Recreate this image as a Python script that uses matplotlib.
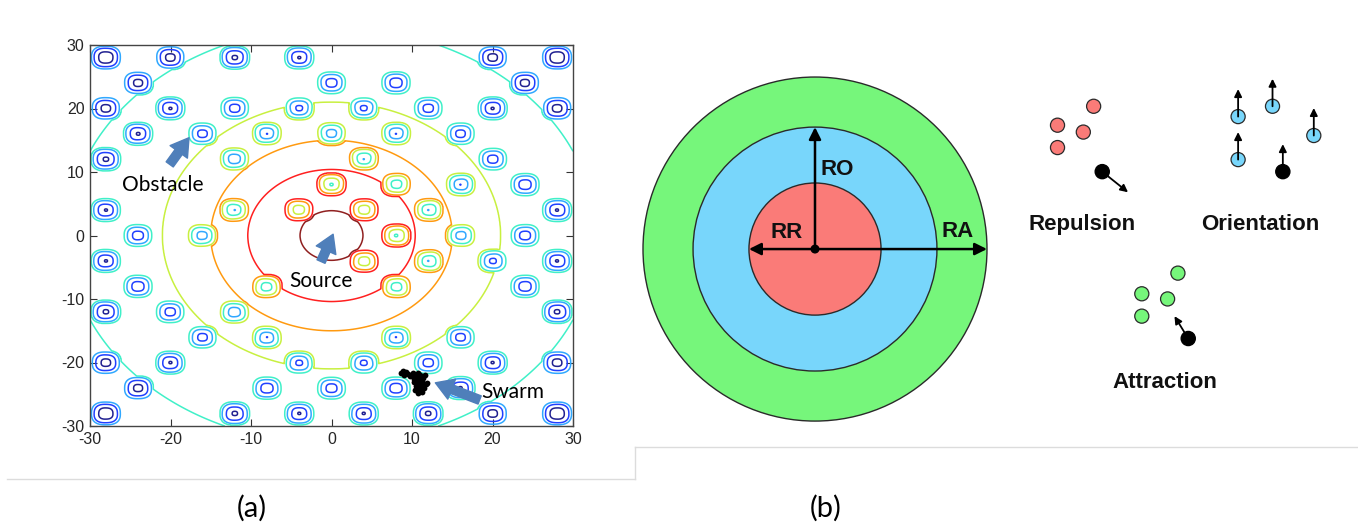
import numpy as np
import matplotlib
import matplotlib.pyplot as plt
from matplotlib.lines import Line2D
from matplotlib.patches import Circle

matplotlib.use("Agg")
plt.rcParams["axes.unicode_minus"] = False

# ── (a) data ────────────────────────────────────────────────────────────────
# obstacle centres, one row of the lattice per y value
OBSTACLE_ROWS = [
    (28, [-28, -20, -12, -4, 20, 28]),
    (24, [-24, 0, 8, 24]),
    (20, [-28, -20, -12, -4, 4, 12, 20, 28]),
    (16, [-24, -16, -8, 0, 8, 16]),
    (12, [-28, -12, 4, 20]),
    (8, [0, 8, 16, 24]),
    (4, [-28, -12, -4, 4, 12, 28]),
    (0, [-24, -16, 8, 16, 24]),
    (-4, [-28, 4, 12, 20, 28]),
    (-8, [-24, -8, 8, 24]),
    (-12, [-28, -20, -12, 28]),
    (-16, [-16, -8, 8, 16]),
    (-20, [-28, -20, -4, 4, 12, 20, 28]),
    (-24, [-24, -8, 0, 8, 16]),
    (-28, [-28, -12, -4, 4, 12, 20, 28]),
]
obs_x = [x for y, xs in OBSTACLE_ROWS for x in xs]
obs_y = [y for y, xs in OBSTACLE_ROWS for x in xs]

# source field: contour level reached at each radius
src_radii = [0, 3.9, 10.4, 15, 21, 32.8, 45]
src_levels = [8, 7, 6, 5, 4, 3, 2.0]

contour_levels = [0, 1, 2, 3, 4, 5, 6, 7]
contour_colors = ["#202090", "#2040ff", "#30a8ff", "#40f0c8",
                  "#c8f040", "#ff9a10", "#ff2020", "#902020"]

swarm_x = [8.6, 8.9, 9.2, 9.5, 9.0, 9.8, 10.1, 10.4, 10.7, 11.0, 11.3, 11.6,
           10.2, 10.6, 11.0, 11.4, 10.3, 10.8, 11.2, 11.7, 10.5, 10.9, 11.3,
           10.4, 10.8, 11.1, 11.5, 11.9, 10.7, 11.2]
swarm_y = [-21.6, -21.3, -21.5, -21.8, -21.9, -22.1, -21.7, -22.0, -21.6,
           -21.9, -22.3, -22.0, -22.6, -22.4, -22.8, -22.5, -23.1, -23.3,
           -23.0, -23.4, -23.7, -23.9, -23.6, -24.3, -24.5, -24.2, -24.0,
           -23.2, -24.8, -24.6]

# (label, text position, arrow tail, arrow head)
callouts = [
    ("Obstacle", (-26.0, 8.0), (-20.1, 11.2), (-17.7, 15.4)),
    ("Source", (-5.2, -7.2), (-1.3, -4.1), (0.2, 0.2)),
    ("Swarm", (18.6, -24.6), (18.4, -25.9), (12.9, -23.2)),
]

# ── (b) data ────────────────────────────────────────────────────────────────
RR, RO, RA = 0.384, 0.709, 1.0
zone_colors = ["#76f67b", "#78d6fb", "#fa7b78"]

rep_x = [1.62, 1.41, 1.56, 1.41]
rep_y = [0.83, 0.72, 0.68, 0.59]
rep_agent = (1.67, 0.45)
rep_dir = (1.82, 0.33)

ori_x = [2.46, 2.66, 2.90, 2.46]
ori_y = [0.77, 0.83, 0.66, 0.52]
ori_agent = (2.72, 0.45)
ori_len = 0.15

att_x = [2.11, 1.90, 2.05, 1.90]
att_y = [-0.14, -0.26, -0.29, -0.39]
att_agent = (2.17, -0.52)
att_dir = (2.09, -0.39)

DOT_R = 0.041

fig = plt.figure(figsize=(13.58, 5.29), dpi=100)

# ── Panel (a): contour map ──────────────────────────────────────────────────
ax = fig.add_axes([90 / 1358, 1 - 426 / 529, 483 / 1358, 381 / 529])
grid = np.linspace(-30, 30, 901)
X, Y = np.meshgrid(grid, grid)
F = np.interp(np.hypot(X, Y), src_radii, src_levels)
for ox, oy in zip(obs_x, obs_y):
    d = (np.abs(X - ox) ** 2.6 + np.abs(Y - oy) ** 2.6) ** (1 / 2.6)
    F -= 3.6 * np.clip(1 - d / 1.85, 0, 1) ** 0.6
ax.contour(X, Y, F, levels=contour_levels, colors=contour_colors, linewidths=1.1)

ax.plot(swarm_x, swarm_y, "o", color="black", ms=4.2, mew=0)
for label, txt, tail, head in callouts:
    ax.annotate("", xy=head, xytext=tail,
                arrowprops=dict(arrowstyle="simple,head_length=0.9,head_width=1.1,tail_width=0.45",
                                color="#4f7fba", mutation_scale=14, shrinkA=0, shrinkB=0))
    ax.text(txt[0], txt[1], label, fontsize=15, family="Lato", va="center", ha="left")

ax.set_xlim(-30, 30)
ax.set_ylim(-30, 30)
ax.set_xticks(range(-30, 31, 10))
ax.set_yticks(range(-30, 31, 10))
ax.tick_params(direction="in", length=5, top=True, right=True, colors="#333333",
               labelsize=11.5, pad=4)
for lab in ax.get_xticklabels() + ax.get_yticklabels():
    lab.set_family(["Liberation Sans Narrow", "Liberation Sans"])
    lab.set_color("#262626")
for sp in ax.spines.values():
    sp.set_color("#444444")
    sp.set_linewidth(1.0)

# ── Panel (b): zones and behaviours ─────────────────────────────────────────
bx = fig.add_axes([635 / 1358, 1 - 440 / 529, 723 / 1358, 380 / 529])
bx.set_xlim(-1.0465, 3.157)
bx.set_ylim(-1.110, 1.099)
bx.axis("off")

for radius, col in zip([RA, RO, RR], zone_colors):
    bx.add_patch(Circle((0, 0), radius, facecolor=col, edgecolor="#2a2a2a", lw=1.0))

big = dict(arrowstyle="-|>", color="black", lw=1.8, mutation_scale=18, shrinkA=0, shrinkB=0)
for tip in [(0, RO), (-RR, 0), (RA, 0)]:
    bx.annotate("", xy=tip, xytext=(0, 0), arrowprops=big)
bx.add_patch(Circle((0, 0), 0.022, color="black", zorder=5))

bold = dict(family="Liberation Sans", weight="bold", fontsize=16, color="#111111")
bx.text(0.03, 0.46, "RO", ha="left", va="center", **bold)
bx.text(-0.165, 0.095, "RR", ha="center", va="center", **bold)
bx.text(0.83, 0.10, "RA", ha="center", va="center", **bold)

small = dict(arrowstyle="-|>", color="black", lw=1.3, mutation_scale=11, shrinkA=0, shrinkB=0)


def dots(xs, ys, col):
    for x, y in zip(xs, ys):
        bx.add_patch(Circle((x, y), DOT_R, facecolor=col, edgecolor="#2a2a2a", lw=0.9, zorder=3))


dots(rep_x, rep_y, zone_colors[2])
bx.annotate("", xy=rep_dir, xytext=rep_agent, arrowprops=small, zorder=2)
bx.add_patch(Circle(rep_agent, DOT_R, color="black", zorder=3))

dots(ori_x, ori_y, zone_colors[1])
for x, y in list(zip(ori_x, ori_y)) + [ori_agent]:
    bx.annotate("", xy=(x, y + ori_len + 0.01), xytext=(x, y), arrowprops=small, zorder=4)
bx.add_patch(Circle(ori_agent, DOT_R, color="black", zorder=3))

dots(att_x, att_y, zone_colors[0])
bx.annotate("", xy=att_dir, xytext=att_agent, arrowprops=small, zorder=2)
bx.add_patch(Circle(att_agent, DOT_R, color="black", zorder=3))

bx.text(1.55, 0.14, "Repulsion", ha="center", va="center", **bold)
bx.text(2.59, 0.14, "Orientation", ha="center", va="center", **bold)
bx.text(2.035, -0.773, "Attraction", ha="center", va="center", **bold)

# ── separators and panel letters ────────────────────────────────────────────
sep = dict(color="#dcdcdc", lw=1.0, transform=fig.transFigure)
fig.add_artist(Line2D([7 / 1358, 635 / 1358], [1 - 479 / 529] * 2, **sep))
fig.add_artist(Line2D([635 / 1358] * 2, [1 - 479 / 529, 1 - 447 / 529], **sep))
fig.add_artist(Line2D([635 / 1358, 1], [1 - 447 / 529] * 2, **sep))
fig.text(252 / 1358, 1 - 508 / 529, "(a)", ha="center", va="center", fontsize=21, family="Lato")
fig.text(826 / 1358, 1 - 508 / 529, "(b)", ha="center", va="center", fontsize=21, family="Lato")

fig.savefig("out.png", dpi=100)
